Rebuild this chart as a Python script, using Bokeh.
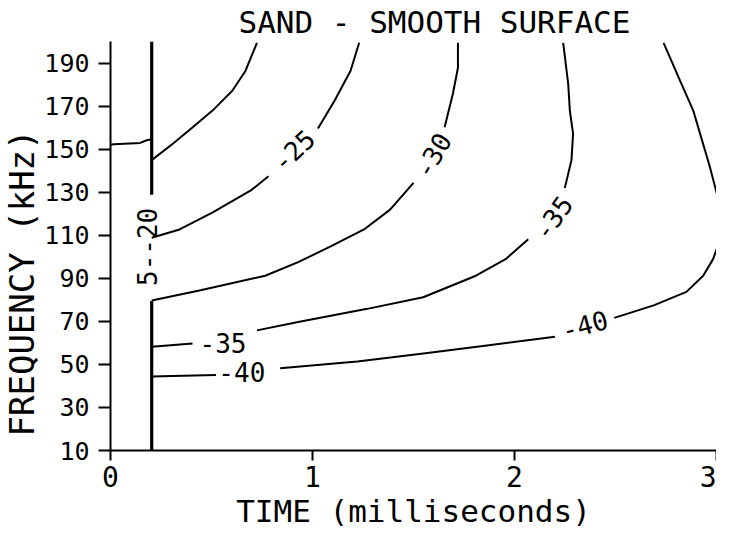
from bokeh.plotting import figure
from bokeh.models import FixedTicker, Range1d, ColumnDataSource, Title
from bokeh.core.properties import value
from bokeh.embed import file_html
from bokeh.resources import INLINE

nan = float("nan")

# ---- data (time in ms, frequency in kHz) ----
x_ticks = [0, 1, 2, 3]
y_ticks = [10, 30, 50, 70, 90, 110, 130, 150, 170, 190]

# source / gate line at t ~ 0.2 ms
gate_t = [0.204, 0.204, nan, 0.204, 0.204]
gate_f = [10.0, 79.5, nan, 128.8, 200.0]

# -20 dB contour (left piece up to the gate, right piece beyond it)
c20_t = [0.000, 0.016, 0.147, 0.180, 0.204, nan, 0.204, 0.310, 0.407, 0.505, 0.603, 0.668, 0.725]
c20_f = [152.0, 152.3, 152.9, 154.1, 154.6, nan, 144.9, 152.6, 160.2, 167.9, 177.1, 186.3, 199.4]

# -25 dB contour
c25_t = [0.204, 0.342, 0.504, 0.699, 0.782, nan, 1.027, 1.109, 1.188, 1.231]
c25_f = [108.8, 112.7, 120.5, 131.1, 137.4, nan, 159.6, 172.5, 186.3, 199.4]

# -30 dB contour
c30_t = [0.204, 0.440, 0.766, 0.929, 1.090, 1.255, 1.384, 1.500, nan, 1.654, 1.695, 1.720, 1.720]
c30_f = [79.7, 84.3, 91.2, 97.5, 104.8, 112.7, 121.9, 134.3, nan, 160.2, 175.7, 187.8, 199.4]

# -35 dB contour
c35_t = [0.204, 0.406, nan, 0.725, 0.929, 1.271, 1.548, 1.809, 1.956, 2.068, nan,
         2.249, 2.282, 2.290, 2.274, 2.266, 2.241]
c35_f = [58.2, 59.7, nan, 65.8, 69.7, 75.8, 81.2, 91.2, 98.9, 108.1, nan,
         131.9, 144.9, 157.2, 167.9, 180.2, 199.4]

# -40 dB contour
c40_t = [0.204, 0.522, nan, 0.840, 1.222, 1.549, 1.873, 2.200, nan, 2.494, 2.689, 2.851,
         2.934, 2.983, 3.018, nan, 3.016, 2.967, 2.885, 2.820, 2.738]
c40_f = [44.4, 45.1, nan, 48.2, 51.3, 55.1, 58.9, 62.8, nan, 71.6, 77.4, 83.7,
         91.2, 98.9, 108.1, nan, 124.2, 141.8, 167.9, 181.7, 199.4]

# contour labels
lab_text = ["-25", "-30", "-35", "-35", "-40", "-40", "5--20"]
lab_t = [0.905, 1.594, 2.190, 0.557, 0.650, 2.347, 0.183]
lab_f = [149.5, 147.2, 118.2, 60.0, 46.4, 68.5, 104.6]
lab_angle = [43, 60, 55, 0, 0, 15, 90]

TITLE = "SAND - SMOOTH SURFACE"
XLABEL = "TIME (milliseconds)"
YLABEL = "FREQUENCY (kHz)"

FONT = "DejaVu Sans Mono"

# ---- figure ----
p = figure(width=716, height=529, output_backend="svg", toolbar_location=None,
           x_range=Range1d(0, 3.0), y_range=Range1d(10, 200),
           min_border_left=0, min_border_right=0, min_border_top=0, min_border_bottom=0,
           title=None)
p.background_fill_color = "white"
p.border_fill_color = "white"
p.outline_line_color = None
p.xgrid.visible = False
p.ygrid.visible = False

for ax in (p.xaxis[0], p.yaxis[0]):
    ax.axis_line_width = 2
    ax.axis_line_color = "black"
    ax.major_tick_line_width = 2
    ax.major_tick_line_color = "black"
    ax.major_tick_in = 0
    ax.minor_tick_line_color = None
    ax.major_label_text_font = FONT
    ax.major_label_text_color = "black"
p.xaxis.ticker = FixedTicker(ticks=x_ticks)
p.yaxis.ticker = FixedTicker(ticks=y_ticks)
p.xaxis.major_label_text_font_size = "28px"
p.yaxis.major_label_text_font_size = "25px"
p.xaxis.major_tick_out = 10
p.xaxis.major_label_standoff = 5
p.yaxis.major_tick_out = 12
p.yaxis.major_label_standoff = 9

lw = 2
p.line(gate_t, gate_f, line_color="black", line_width=3.2)
for tt, ff in ((c20_t, c20_f), (c25_t, c25_f), (c30_t, c30_f), (c35_t, c35_f), (c40_t, c40_f)):
    p.line(tt, ff, line_color="black", line_width=lw)

src = ColumnDataSource(dict(x=lab_t, y=lab_f, text=lab_text, angle=lab_angle))
p.text(x="x", y="y", text="text", angle="angle", angle_units="deg", source=src,
       text_font=value(FONT), text_font_size=value("26px"), text_color="black",
       text_align="center", text_baseline="middle")

p.add_layout(Title(text=TITLE, align="left", offset=128, standoff=3,
                   text_font=FONT, text_font_size="31px", text_font_style="normal",
                   text_color="black"), "above")
p.add_layout(Title(text=YLABEL, align="left", offset=14, standoff=-1,
                   text_font=FONT, text_font_size="34px", text_font_style="normal",
                   text_color="black"), "left")
p.add_layout(Title(text=XLABEL, align="center", standoff=2,
                   text_font=FONT, text_font_size="31px", text_font_style="normal",
                   text_color="black"), "below")

open("out.html", "w").write(file_html(p, INLINE))
